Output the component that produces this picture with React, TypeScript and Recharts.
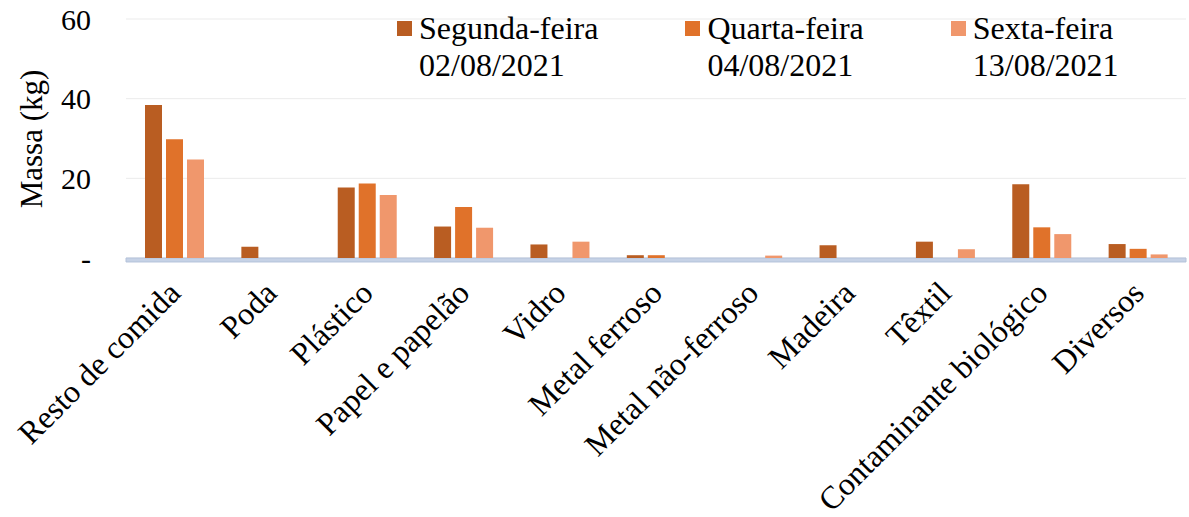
import { BarChart, Bar, XAxis, YAxis, CartesianGrid, Legend, ReferenceArea } from 'recharts';

const categories = [
  'Resto de comida',
  'Poda',
  'Plástico',
  'Papel e papelão',
  'Vidro',
  'Metal ferroso',
  'Metal não-ferroso',
  'Madeira',
  'Têxtil',
  'Contaminante biológico',
  'Diversos',
];

// kg per category
const segunda = [38.4, 2.8, 17.7, 7.9, 3.4, 0.7, 0, 3.2, 4.1, 18.5, 3.5];
const quarta = [29.8, 0, 18.7, 12.8, 0, 0.7, 0, 0, 0, 7.7, 2.3];
const sexta = [24.7, 0, 15.8, 7.6, 4.1, 0, 0.6, 0, 2.2, 6.0, 0.9];

const seriesKeys = ['segunda', 'quarta', 'sexta'];
const seriesNames = ['Segunda-feira', 'Quarta-feira', 'Sexta-feira'];
const seriesDates = ['02/08/2021', '04/08/2021', '13/08/2021'];
const seriesColors = ['#b95d22', '#e0722a', '#f0976c'];

const yTicks = [0, 20, 40, 60];

const data = categories.map((name, i) => ({
  name,
  segunda: segunda[i],
  quarta: quarta[i],
  sexta: sexta[i],
}));

const FONT = "'Liberation Serif', 'Times New Roman', Times, serif";

const CategoryTick = ({ x, y, payload }: any) => (
  <text
    transform={`translate(${x + 8},${y + 29}) rotate(-45)`}
    textAnchor="end"
    style={{ fontFamily: FONT, fontSize: 32 }}
    fill="#000"
  >
    {payload.value}
  </text>
);

const ValueTick = ({ x, y, payload }: any) => (
  <text
    x={x}
    y={y}
    textAnchor="end"
    dominantBaseline="central"
    style={{ fontFamily: FONT, fontSize: 30 }}
    fill="#000"
  >
    {payload.value === 0 ? '-' : payload.value}
  </text>
);

const YLabel = () => (
  <text
    transform="translate(42,139) rotate(-90)"
    textAnchor="middle"
    style={{ fontFamily: FONT, fontSize: 31 }}
    fill="#000"
  >
    Massa (kg)
  </text>
);

const TwoLineLegend = () => (
  <div style={{ display: 'flex', fontFamily: FONT, fontSize: 32, lineHeight: '37px', color: '#000', whiteSpace: 'nowrap' }}>
    {seriesNames.map((n, i) => (
      <div key={n} style={{ display: 'flex', alignItems: 'flex-start', marginRight: 87 }}>
        <span
          style={{
            display: 'inline-block',
            width: 15,
            height: 15,
            background: seriesColors[i],
            marginTop: 11,
            marginRight: 7,
          }}
        />
        <div>
          <div>{n}</div>
          <div>{seriesDates[i]}</div>
        </div>
      </div>
    ))}
  </div>
);

export default function App() {
  return (
    <div style={{ position: 'absolute', left: 0, top: 0, background: '#fff', fontFamily: FONT }}>
      <BarChart
        width={1189}
        height={517}
        data={data}
        margin={{ top: 19, right: 3, left: 0, bottom: 0 }}
        barGap={4}
        barSize={17}
        style={{ fontFamily: FONT }}
      >
        <CartesianGrid vertical={false} stroke="#ebebeb" />
        <XAxis
          dataKey="name"
          interval={0}
          height={259}
          tickLine={false}
          axisLine={false}
          tick={<CategoryTick />}
        />
        <YAxis
          width={126}
          domain={[0, 60]}
          ticks={yTicks}
          tickLine={false}
          axisLine={false}
          tickSize={0}
          tickMargin={35}
          tick={<ValueTick />}
          label={<YLabel />}
        />
        <ReferenceArea y1={-1} y2={0} ifOverflow="visible" fill="#c6d2e6" fillOpacity={1} stroke="#b4c2da" strokeWidth={1} />
        <Legend
          layout="horizontal"
          verticalAlign="middle"
          align="center"
          content={<TwoLineLegend />}
          wrapperStyle={{ position: 'absolute', top: 10, left: 397, width: 790 }}
        />
        {seriesKeys.map((k, i) => (
          <Bar key={k} dataKey={k} name={seriesNames[i]} fill={seriesColors[i]} isAnimationActive={false} />
        ))}
      </BarChart>
    </div>
  );
}
